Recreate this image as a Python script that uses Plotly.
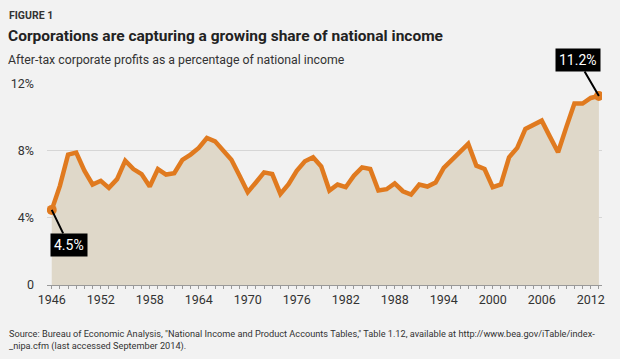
import plotly.graph_objects as go

years = list(range(1946, 2014))
profits = [4.47, 5.9, 7.76, 7.88, 6.8, 5.98, 6.2, 5.78, 6.3, 7.4,
           6.9, 6.6, 5.86, 6.9, 6.57, 6.65, 7.45, 7.76, 8.16, 8.75,
           8.55, 7.96, 7.45, 6.5, 5.52, 6.1, 6.7, 6.6, 5.42, 6.0,
           6.8, 7.36, 7.6, 7.05, 5.62, 5.98, 5.82, 6.5, 7.0, 6.9,
           5.62, 5.7, 6.05, 5.58, 5.38, 5.98, 5.86, 6.1, 6.97, 7.45,
           7.96, 8.4, 7.1, 6.9, 5.82, 5.98, 7.6, 8.16, 9.29, 9.54,
           9.78, 8.83, 7.9, 9.38, 10.8, 10.8, 11.13, 11.25]
x_labels = [str(y) if (y - 1946) % 6 == 0 else "" for y in years]
y_ticks = [0, 4, 8, 12]
y_labels = ["0", "4%", "8%", "12%"]
start_label = "4.5%"
end_label = "11.2%"

FONT = "Roboto, sans-serif"
ORANGE = "#E07A1F"
FILL = "#DFD8C9"
BG = "#F2F2F2"

fig = go.Figure()
fig.add_trace(go.Scatter(
    x=years, y=profits, mode="lines", fill="tozeroy",
    fillcolor=FILL, line=dict(color=ORANGE, width=4.5),
    hoverinfo="skip", showlegend=False))
fig.add_trace(go.Scatter(
    x=[years[0], years[-1]], y=[profits[0], profits[-1]], mode="markers",
    marker=dict(color=ORANGE, size=10), showlegend=False, hoverinfo="skip"))

L, R, T, B = 47, 18, 83, 74
W, H = 620, 359
pw, ph = W - L - R, H - T - B

def px(xp):
    return (xp - L) / pw

def py(yp):
    return (H - B - yp) / ph

ann = []
ann.append(dict(text="<b>FIGURE 1</b>", x=px(7), y=py(15.5), xref="paper", yref="paper",
                xanchor="left", yanchor="middle", showarrow=False,
                font=dict(family=FONT, size=10.5, color="#333")))
ann.append(dict(text="<b>Corporations are capturing a growing share of national income</b>",
                x=px(6), y=py(35.5), xref="paper", yref="paper",
                xanchor="left", yanchor="middle", showarrow=False,
                font=dict(family=FONT, size=15.5, color="#222")))
ann.append(dict(text="After-tax corporate profits as a percentage of national income",
                x=px(6), y=py(60), xref="paper", yref="paper",
                xanchor="left", yanchor="middle", showarrow=False,
                font=dict(family=FONT, size=12.3, color="#333")))
ann.append(dict(text='Source: Bureau of Economic Analysis, "National Income and Product Accounts Tables," Table 1.12, available at http://www.bea.gov/iTable/index-<br>_nipa.cfm (last accessed September 2014).',
                x=px(7), y=py(326), xref="paper", yref="paper",
                xanchor="left", yanchor="top", align="left", showarrow=False,
                font=dict(family=FONT, size=9.2, color="#333")))
ann.append(dict(text=start_label, x=years[0], y=profits[0], xref="x", yref="y",
                ax=17, ay=35, showarrow=True, arrowhead=0, arrowwidth=2,
                arrowcolor="black", bgcolor="black", borderpad=3,
                font=dict(family=FONT, size=14, color="white")))
ann.append(dict(text=end_label, x=years[-1], y=profits[-1], xref="x", yref="y",
                ax=-21, ay=-36, showarrow=True, arrowhead=0, arrowwidth=2,
                arrowcolor="black", bgcolor="black", borderpad=3,
                font=dict(family=FONT, size=14, color="white")))

fig.update_layout(
    width=W, height=H, margin=dict(l=L, r=R, t=T, b=B),
    paper_bgcolor=BG, plot_bgcolor=BG,
    annotations=ann,
    xaxis=dict(range=[1945.42, 2013.38], tickvals=years, ticktext=x_labels,
               ticks="outside", ticklen=3, tickcolor="#999", tickwidth=1,
               showline=True, linecolor="#999", linewidth=1, showgrid=False,
               zeroline=False, tickfont=dict(family=FONT, size=12.5, color="#333")),
    yaxis=dict(range=[0, 12.02], tickvals=y_ticks, ticktext=y_labels,
               showgrid=True, gridcolor="#D6D6D6", gridwidth=1, zeroline=False,
               showline=False, ticks="", ticklabelstandoff=12,
               tickfont=dict(family=FONT, size=12.5, color="#333")),
)
fig.write_html("out.html", config={"displayModeBar": False},
               post_script="document.body.style.margin='0';document.body.style.padding='0';document.body.style.background='#F2F2F2';")
